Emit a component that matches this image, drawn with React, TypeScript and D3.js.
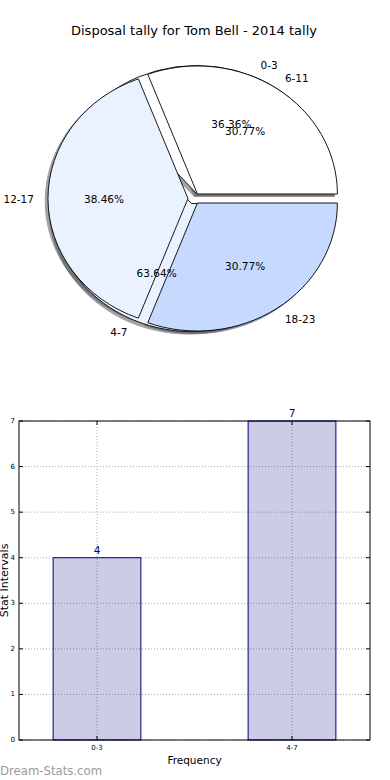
import React, { useEffect, useRef } from 'react';
import * as d3 from 'd3';

const titleText = 'Disposal tally for Tom Bell - 2014 tally';
// two pies drawn on top of each other
const pieOneLabels = ['0-3', '4-7'];
const pieOneValues = [4, 7];
const pieTwoLabels = ['6-11', '12-17', '18-23'];
const pieTwoValues = [4, 5, 4];
const wedgeColors = ['#ffffff', '#ebf2ff', '#c6d9ff'];

const barCategories = ['0-3', '4-7'];
const barValues = [4, 7];
const yTicks = [0, 1, 2, 3, 4, 5, 6, 7];

const font = 'DejaVu Sans, sans-serif';

const App = () => {
    const ref = useRef<SVGSVGElement>(null);

    const graph = () => {
        const svg = d3.select(ref.current);
        svg.selectAll('*').remove();

        svg.append('text')
            .attr('x', 194).attr('y', 34.5)
            .attr('text-anchor', 'middle')
            .style('font-family', font).style('font-size', '13px')
            .text(titleText);

        // ---- pie ----
        const cx = 194, cy = 198.5, rx = 140, ry = 128, R = 100;
        const explode = 0.043;
        const pie = d3.pie<number>().sort(null)
            .startAngle(Math.PI / 2)
            .endAngle(Math.PI / 2 - 2 * Math.PI);
        const arc = d3.arc<d3.PieArcDatum<number>>().innerRadius(0).outerRadius(R);

        const pies = [
            { labels: pieOneLabels, arcs: pie(pieOneValues) },
            { labels: pieTwoLabels, arcs: pie(pieTwoValues) },
        ];

        const pieG = svg.append('g')
            .attr('transform', `translate(${cx},${cy}) scale(${rx / R},${ry / R})`);

        const mid = (d: d3.PieArcDatum<number>) => (d.startAngle + d.endAngle) / 2;
        const offX = (d: d3.PieArcDatum<number>) => explode * R * Math.sin(mid(d));
        const offY = (d: d3.PieArcDatum<number>) => -explode * R * Math.cos(mid(d));

        // shadows under everything
        pies.forEach(p => {
            p.arcs.forEach((d, i) => {
                const c = d3.rgb(wedgeColors[i % wedgeColors.length]);
                const sc = d3.rgb(c.r * 0.3, c.g * 0.3, c.b * 0.3).toString();
                pieG.append('path')
                    .attr('d', arc(d))
                    .attr('transform', `translate(${offX(d) - 0.02 * R},${offY(d) + 0.02 * R})`)
                    .attr('fill', sc).attr('stroke', sc)
                    .attr('opacity', 0.5)
                    .attr('vector-effect', 'non-scaling-stroke');
            });
        });

        pies.forEach(p => {
            p.arcs.forEach((d, i) => {
                pieG.append('path')
                    .attr('d', arc(d))
                    .attr('transform', `translate(${offX(d)},${offY(d)})`)
                    .attr('fill', wedgeColors[i % wedgeColors.length])
                    .attr('stroke', '#000').attr('stroke-width', 0.9)
                    .attr('vector-effect', 'non-scaling-stroke');
            });
        });

        pies.forEach(p => {
            p.arcs.forEach((d, i) => {
                const sx = Math.sin(mid(d)), sy = -Math.cos(mid(d));
                const ex = explode * rx * sx, ey = explode * ry * sy;
                svg.append('text')
                    .attr('x', cx + ex + 0.6 * rx * sx)
                    .attr('y', cy + ey + 0.6 * ry * sy)
                    .attr('text-anchor', 'middle')
                    .attr('dominant-baseline', 'central')
                    .style('font-family', font).style('font-size', '10.5px')
                    .text(d3.format('.2f')(d.value / d3.sum(p.arcs, a => a.value) * 100) + '%');
                svg.append('text')
                    .attr('x', cx + ex + 1.1 * rx * sx)
                    .attr('y', cy + ey + 1.1 * ry * sy)
                    .attr('text-anchor', sx > 0 ? 'start' : 'end')
                    .attr('dominant-baseline', 'central')
                    .style('font-family', font).style('font-size', '10.5px')
                    .text(p.labels[i]);
            });
        });

        // ---- bar chart ----
        const left = 19, right = 370, top = 421, bottom = 740;
        const x = d3.scalePoint<string>().domain(barCategories).range([left, right]).padding(0.4);
        const y = d3.scaleLinear().domain([0, 7]).range([bottom, top]);
        const bw = x.step() * 0.45;

        const grid = svg.append('g')
            .attr('stroke', '#aaa').attr('stroke-width', 1).attr('stroke-dasharray', '1,2');
        yTicks.forEach(t => {
            grid.append('line').attr('x1', left).attr('x2', right).attr('y1', y(t)).attr('y2', y(t));
        });
        barCategories.forEach(c => {
            grid.append('line').attr('x1', x(c)!).attr('x2', x(c)!).attr('y1', top).attr('y2', bottom);
        });

        svg.selectAll('rect.bar')
            .data(barValues)
            .enter()
            .append('rect')
            .attr('class', 'bar')
            .attr('x', (d, i) => x(barCategories[i])! - bw / 2)
            .attr('width', bw)
            .attr('y', d => y(d))
            .attr('height', d => bottom - y(d))
            .attr('fill', 'rgba(0,0,128,0.2)')
            .attr('stroke', 'navy').attr('stroke-width', 1);

        svg.selectAll('text.val')
            .data(barValues)
            .enter()
            .append('text')
            .attr('class', 'val')
            .attr('x', (d, i) => x(barCategories[i])!)
            .attr('y', d => y(d) - 4)
            .attr('text-anchor', 'middle')
            .attr('fill', 'navy')
            .style('font-family', font).style('font-size', '10.5px')
            .text(d => d);

        svg.append('rect')
            .attr('x', left).attr('y', top)
            .attr('width', right - left).attr('height', bottom - top)
            .attr('fill', 'none').attr('stroke', '#000').attr('stroke-width', 1);

        const ticks = svg.append('g').attr('stroke', '#000').attr('stroke-width', 1);
        yTicks.forEach(t => {
            ticks.append('line').attr('x1', left).attr('x2', left + 4).attr('y1', y(t)).attr('y2', y(t));
            ticks.append('line').attr('x1', right - 4).attr('x2', right).attr('y1', y(t)).attr('y2', y(t));
            svg.append('text')
                .attr('x', left - 4).attr('y', y(t))
                .attr('text-anchor', 'end').attr('dominant-baseline', 'central')
                .style('font-family', font).style('font-size', '7px')
                .text(t);
        });
        barCategories.forEach(c => {
            ticks.append('line').attr('x1', x(c)!).attr('x2', x(c)!).attr('y1', bottom).attr('y2', bottom - 4);
            ticks.append('line').attr('x1', x(c)!).attr('x2', x(c)!).attr('y1', top).attr('y2', top + 4);
            svg.append('text')
                .attr('x', x(c)!).attr('y', bottom + 10)
                .attr('text-anchor', 'middle')
                .style('font-family', font).style('font-size', '7px')
                .text(c);
        });

        svg.append('text')
            .attr('x', (left + right) / 2).attr('y', 764)
            .attr('text-anchor', 'middle')
            .style('font-family', font).style('font-size', '10.5px')
            .text('Frequency');

        svg.append('text')
            .attr('transform', `translate(8,${(top + bottom) / 2}) rotate(-90)`)
            .attr('text-anchor', 'middle')
            .style('font-family', font).style('font-size', '11px')
            .text('Stat Intervals');

        svg.append('text')
            .attr('x', 0).attr('y', 775)
            .attr('fill', '#9a9a9a')
            .style('font-family', font).style('font-size', '11.7px')
            .text('Dream-Stats.com');
    };

    useEffect(() => graph());

    return (
        <svg ref={ref} width="390" height="780"
            style={{ position: 'absolute', left: 0, top: 0, background: '#fff' }}></svg>
    );
};

export default App;
